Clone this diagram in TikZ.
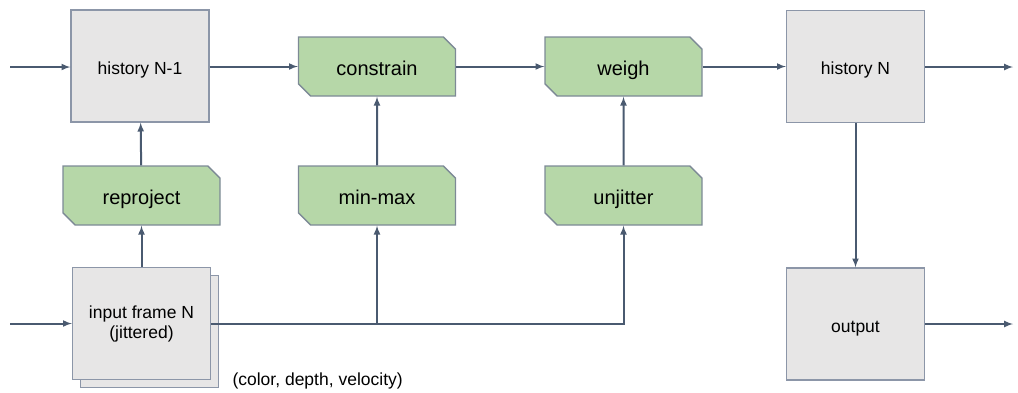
\documentclass[tikz,border=0pt]{standalone}
\usepackage{fontspec}
\setmainfont{Liberation Sans}
\usepackage{tikz}
\usetikzlibrary{arrows,shapes}
\usetikzlibrary{positioning}
\definecolor{boxgray}{HTML}{E7E6E6}
\definecolor{boxedge}{HTML}{8C96A8}
\definecolor{stagegreen}{HTML}{B6D7A8}
\definecolor{stageedge}{HTML}{7D8A96}
\definecolor{flowcol}{HTML}{4A5A70}
\tikzset{
    buffer/.style={draw=boxedge, fill=boxgray, line width=1.4pt, inner sep=0pt,
        minimum width=138pt, minimum height=112pt, align=center,
        font=\fontsize{17.5}{20}\selectfont},
    oneline/.style={text height=16pt, text depth=0pt},
    stage/.style={chamfered rectangle, chamfered rectangle corners={north east, south west},
        chamfered rectangle xsep=9pt, draw=stageedge, fill=stagegreen, line width=1.4pt,
        inner sep=0pt, minimum width=157pt, minimum height=59pt,
        text height=17pt, text depth=0pt,
        font=\fontsize{20}{24}\selectfont},
    flow/.style={draw=flowcol, line width=2pt, -latex},
}
\begin{document}
\begin{tikzpicture}[x=1pt, y=-1pt]
\useasboundingbox (0,0) rectangle (1018,392);
	\node[buffer, oneline] (histold) at (140,66) {history N-1};
	\node[buffer, oneline] (histnew) at (855.5,66.5) {history N};
	\node[buffer] (frameback) at (149.5,331.5) {};
	\node[buffer] (frame) at (141.5,323.5) {input frame N\\(jittered)};
	\node[buffer, oneline] (output) at (855.5,324) {output};
	\node[stage] (reproject) at (141.5,195.5) {reproject};
	\node[stage] (constrain) at (377,66.5) {constrain};
	\node[stage] (minmax) at (377,195.5) {min-max};
	\node[stage] (weigh) at (623.5,66.5) {weigh};
	\node[stage] (unjitter) at (623.5,195.5) {unjitter};
	\node[anchor=base west, font=\fontsize{17.5}{22}\selectfont] (attrlabel) at (229,385) {(color, depth, velocity)};
	\coordinate (histin) at (10,67);
	\coordinate (framein) at (10,323.5);
	\coordinate (histout) at (1013,67);
	\coordinate (outputout) at (1013,324);
	\draw[flow] (histin) -- (histin -| histold.west);
	\draw[flow] (framein) -- (frame.west);
	\draw[flow] (histold.east |- constrain.west) -- (constrain.west);
	\draw[flow] (constrain.east) -- (weigh.west);
	\draw[flow] (weigh.east) -- (weigh.east -| histnew.west);
	\draw[flow] (histnew.east |- histout) -- (histout);
	\draw[flow] (histnew) -- (output);
	\draw[flow] (output.east) -- (outputout);
	\draw[flow] (frame) -- (reproject);
	\draw[flow] (reproject) -- (histold);
	\draw[flow] (minmax) -- (constrain);
	\draw[flow] (unjitter) -- (weigh);
	\draw[flow] (frame.east) -| (unjitter.south);
	\draw[flow] (frame.east -| minmax.south) -- (minmax.south);
\end{tikzpicture}
\end{document}
